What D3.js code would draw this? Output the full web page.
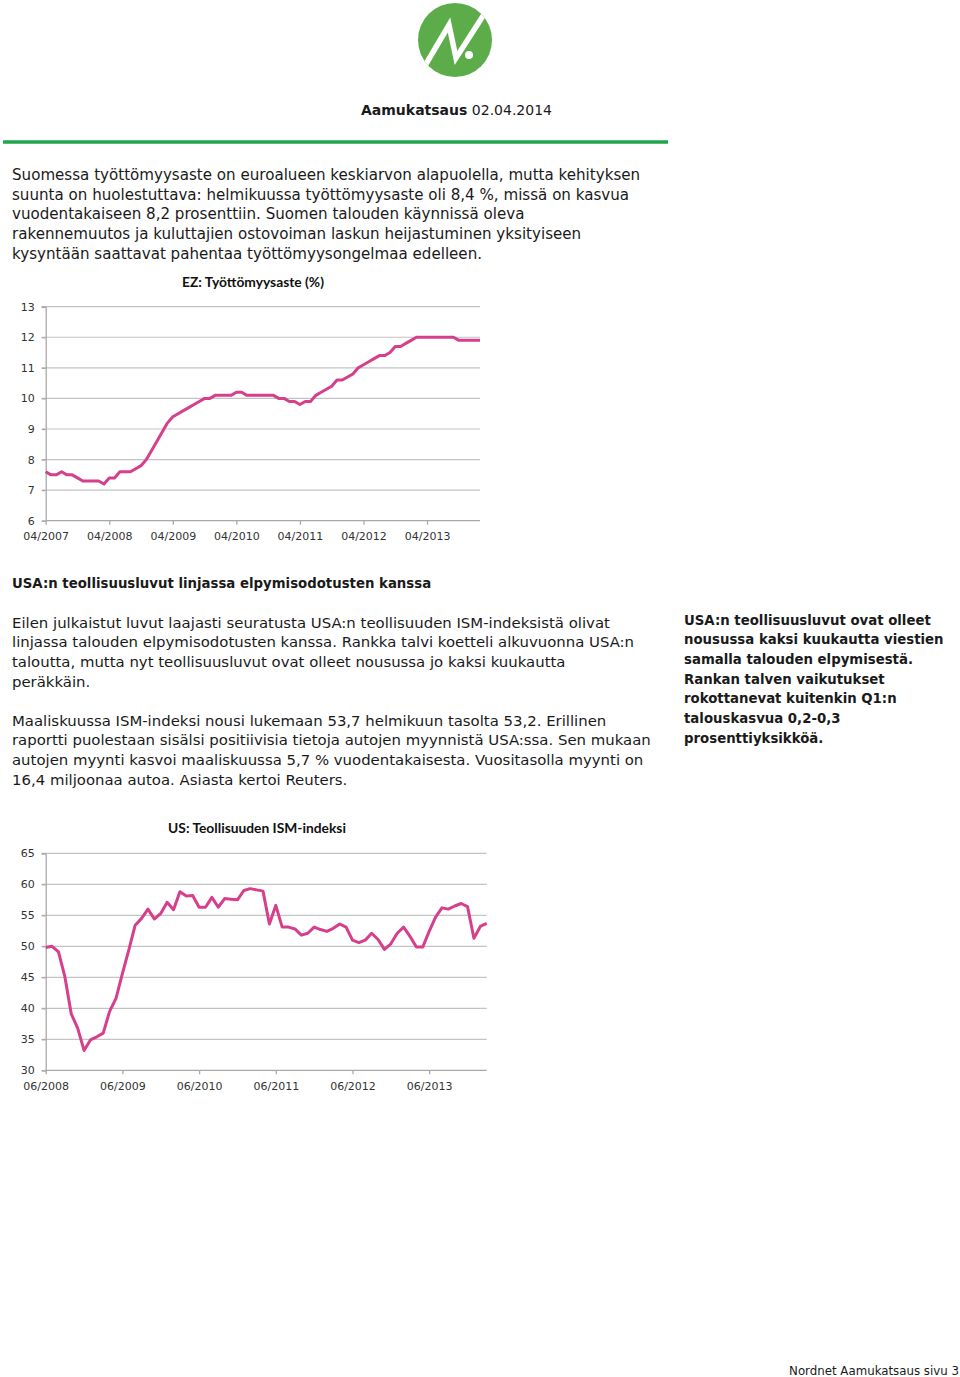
<!DOCTYPE html>
<html><head><meta charset="utf-8">
<script src="https://cdn.jsdelivr.net/npm/d3@7/dist/d3.min.js"></script>
<style>
html,body{margin:0;padding:0;background:#fff;}
svg{display:block;}
</style></head>
<body>
<svg id="page" width="960" height="1377"></svg>
<script>
// ---------- DATA ----------
const ezTickLabels = ["04/2007","04/2008","04/2009","04/2010","04/2011","04/2012","04/2013"];
const ezValues = [7.6,7.5,7.5,7.6,7.5,7.5,7.4,7.3,7.3,7.3,7.3,7.2,
  7.4,7.4,7.6,7.6,7.6,7.7,7.8,8.0,8.3,8.6,8.9,9.2,
  9.4,9.5,9.6,9.7,9.8,9.9,10.0,10.0,10.1,10.1,10.1,10.1,
  10.2,10.2,10.1,10.1,10.1,10.1,10.1,10.1,10.0,10.0,9.9,9.9,
  9.8,9.9,9.9,10.1,10.2,10.3,10.4,10.6,10.6,10.7,10.8,11.0,
  11.1,11.2,11.3,11.4,11.4,11.5,11.7,11.7,11.8,11.9,12.0,12.0,
  12.0,12.0,12.0,12.0,12.0,12.0,11.9,11.9,11.9,11.9,11.9];
const ezYTicks = [6,7,8,9,10,11,12,13];

const ismTickLabels = ["06/2008","06/2009","06/2010","06/2011","06/2012","06/2013"];
const ismValues = [49.8,50.0,49.1,45.1,39.1,36.8,33.2,34.9,35.4,36.0,39.5,41.6,
  45.6,49.4,53.4,54.5,56.0,54.4,55.3,57.1,55.9,58.8,58.1,58.2,
  56.3,56.3,57.9,56.3,57.7,57.6,57.5,59.0,59.3,59.1,58.9,53.6,
  56.6,53.1,53.1,52.8,51.8,52.1,53.1,52.7,52.4,52.9,53.6,53.1,
  51.0,50.6,51.0,52.1,51.1,49.5,50.4,52.1,53.1,51.6,49.9,49.9,
  52.4,54.7,56.2,56.0,56.5,56.9,56.4,51.3,53.2,53.7];
const ismYTicks = [30,35,40,45,50,55,60,65];

const para1 = [
 "Suomessa työttömyysaste on euroalueen keskiarvon alapuolella, mutta kehityksen",
 "suunta on huolestuttava: helmikuussa työttömyysaste oli 8,4 %, missä on kasvua",
 "vuodentakaiseen 8,2 prosenttiin. Suomen talouden käynnissä oleva",
 "rakennemuutos ja kuluttajien ostovoiman laskun heijastuminen yksityiseen",
 "kysyntään saattavat pahentaa työttömyysongelmaa edelleen."];
const heading2 = "USA:n teollisuusluvut linjassa elpymisodotusten kanssa";
const para2 = [
 "Eilen julkaistut luvut laajasti seuratusta USA:n teollisuuden ISM-indeksistä olivat",
 "linjassa talouden elpymisodotusten kanssa. Rankka talvi koetteli alkuvuonna USA:n",
 "taloutta, mutta nyt teollisuusluvut ovat olleet nousussa jo kaksi kuukautta",
 "peräkkäin."];
const para3 = [
 "Maaliskuussa ISM-indeksi nousi lukemaan 53,7 helmikuun tasolta 53,2. Erillinen",
 "raportti puolestaan sisälsi positiivisia tietoja autojen myynnistä USA:ssa. Sen mukaan",
 "autojen myynti kasvoi maaliskuussa 5,7 % vuodentakaisesta. Vuositasolla myynti on",
 "16,4 miljoonaa autoa. Asiasta kertoi Reuters."];
const sidebar = [
 "USA:n teollisuusluvut ovat olleet",
 "nousussa kaksi kuukautta viestien",
 "samalla talouden elpymisestä.",
 "Rankan talven vaikutukset",
 "rokottanevat kuitenkin Q1:n",
 "talouskasvua 0,2-0,3",
 "prosenttiyksikköä."];

// ---------- DRAW ----------
const svg = d3.select("#page");
const bodyFont = "'DejaVu Sans', sans-serif";
const titleFont = "Lato, 'Open Sans', sans-serif";
const lineColor = "#d63f8c";
const textColor = "#1a1a1a";

// Logo
const logo = svg.append("g");
logo.append("clipPath").attr("id","logoclip").append("circle").attr("cx",455).attr("cy",40).attr("r",37);
logo.append("circle").attr("cx",455).attr("cy",40).attr("r",37).attr("fill","#5cad4a");
logo.append("path").attr("clip-path","url(#logoclip)")
  .attr("d","M420,74 L449,25 L456,58 L492,2")
  .attr("fill","none").attr("stroke","#fff").attr("stroke-width",5.5).attr("stroke-linejoin","miter");
logo.append("circle").attr("cx",469).attr("cy",55).attr("r",4).attr("fill","#fff");

// Header
const hdr = svg.append("text").attr("x",361).attr("y",115).attr("font-family",bodyFont)
  .attr("font-size",14).attr("fill",textColor);
hdr.append("tspan").attr("font-weight","bold").text("Aamukatsaus");
hdr.append("tspan").text(" 02.04.2014");

svg.append("line").attr("x1",3).attr("x2",668).attr("y1",142).attr("y2",142)
  .attr("stroke","#1fa64d").attr("stroke-width",3.5);

function block(lines, x, y0, lh, size, weight){
  lines.forEach((t,i)=>{
    svg.append("text").attr("x",x).attr("y",y0+i*lh).attr("font-family",bodyFont)
      .attr("font-size",size).attr("font-weight",weight||"normal").attr("fill",textColor).text(t);
  });
}
block(para1, 12, 180, 19.7, 15.1);
block([heading2], 12, 588, 0, 13.3, "bold");
block(para2, 12, 627.5, 19.7, 14.9);
block(para3, 12, 725.5, 19.7, 14.9);
block(sidebar, 684, 624.5, 19.7, 13.3, "bold");

svg.append("text").attr("x",959).attr("y",1375).attr("text-anchor","end")
  .attr("font-family",bodyFont).attr("font-size",11.8).attr("fill",textColor)
  .text("Nordnet Aamukatsaus sivu 3");

// Chart helper
function lineChart(opt){
  const g = svg.append("g");
  const x = d3.scaleLinear().domain([0, opt.values.length-1]).range([opt.x0, opt.x1]);
  const y = d3.scaleLinear().domain(opt.yDomain).range([opt.yBottom, opt.yTop]);
  g.selectAll(".grid").data(opt.yTicks.slice(1)).join("line")
    .attr("x1",opt.x0-4).attr("x2",opt.x1).attr("y1",d=>y(d)).attr("y2",d=>y(d))
    .attr("stroke","#c3c3c3").attr("stroke-width",1.2);
  const yAxis = d3.axisLeft(y).tickValues(opt.yTicks).tickFormat(d3.format("d")).tickSize(4).tickPadding(7);
  const ya = g.append("g").attr("transform",`translate(${opt.x0},0)`).call(yAxis);
  const xAxis = d3.axisBottom(x).tickValues(opt.tickLabels.map((d,i)=>i*12))
    .tickFormat((d,i)=>opt.tickLabels[i]).tickSize(4).tickPadding(8);
  const xa = g.append("g").attr("transform",`translate(0,${opt.yBottom})`).call(xAxis);
  xa.select(".domain").attr("d",`M${opt.x0},0H${opt.x1}`);
  [ya,xa].forEach(a=>{
    a.selectAll(".domain").attr("stroke","#a9a9a9").attr("stroke-width",1.3);
    a.selectAll(".tick line").attr("stroke","#a9a9a9").attr("stroke-width",1.3);
    a.selectAll("text").attr("font-family",bodyFont).attr("font-size",11).attr("fill","#333");
  });
  g.append("path").datum(opt.values)
    .attr("d", d3.line().x((d,i)=>x(i)).y(d=>y(d)))
    .attr("fill","none").attr("stroke",lineColor).attr("stroke-width",3).attr("stroke-linejoin","round");
  g.append("text").attr("x",opt.titleX).attr("y",opt.titleY).attr("text-anchor","middle")
    .attr("font-family",titleFont).attr("font-weight","bold").attr("font-size",13.8).attr("fill","#111")
    .text(opt.title);
}

lineChart({values:ezValues, tickLabels:ezTickLabels, yTicks:ezYTicks, yDomain:[6,13],
  x0:45.7, x1:480, yBottom:520.7, yTop:306.7, title:"EZ: Työttömyysaste (%)", titleX:253, titleY:287});
lineChart({values:ismValues, tickLabels:ismTickLabels, yTicks:ismYTicks, yDomain:[30,65],
  x0:45.7, x1:486.7, yBottom:1070.3, yTop:853.3, title:"US: Teollisuuden ISM-indeksi", titleX:257, titleY:833});
</script>
</body></html>
